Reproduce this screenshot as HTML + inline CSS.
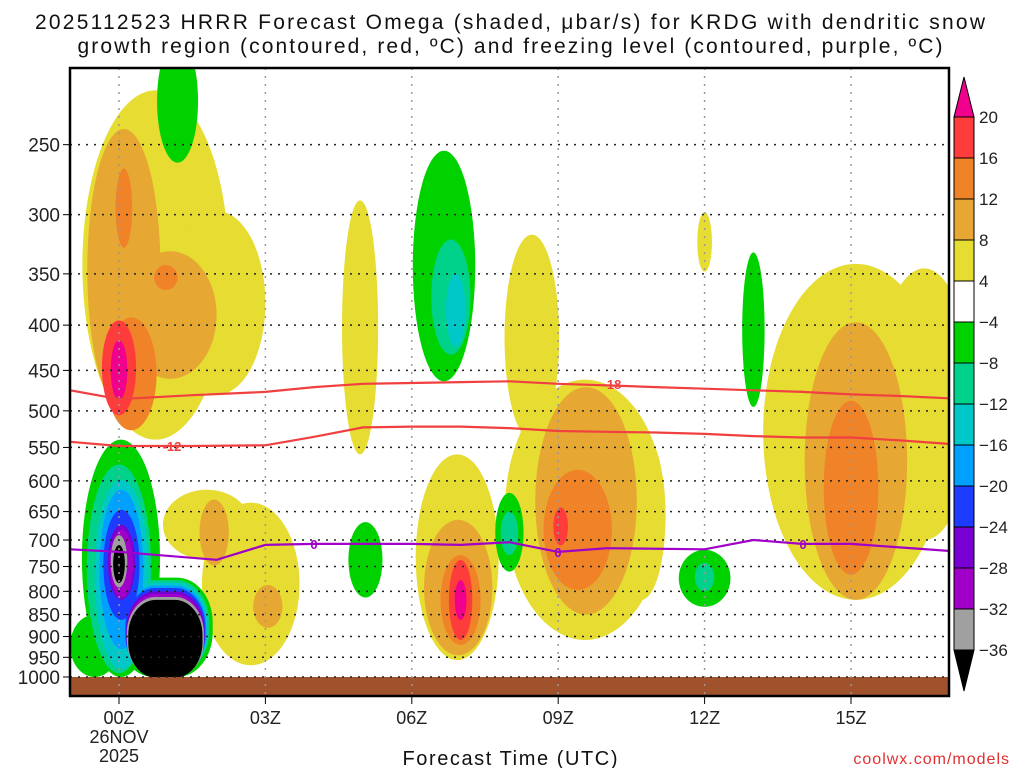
<!DOCTYPE html>
<html><head><meta charset="utf-8"><style>
html,body{margin:0;padding:0;background:#fff;}
svg{display:block;font-family:"Liberation Sans","DejaVu Sans",sans-serif;}
</style></head><body>
<svg id="chart" width="1024" height="768" viewBox="0 0 1024 768" xmlns="http://www.w3.org/2000/svg">
<text x="510" y="29" font-size="21" text-anchor="middle" fill="#111" textLength="950" lengthAdjust="spacing">2025112523 HRRR Forecast Omega (shaded, μbar/s) for KRDG with dendritic snow</text>
<text x="510" y="53" font-size="21" text-anchor="middle" fill="#111" textLength="865" lengthAdjust="spacing">growth region (contoured, red, ºC) and freezing level (contoured, purple, ºC)</text>
<defs><clipPath id="plotclip"><rect x="70" y="68" width="879" height="628"/></clipPath></defs>
<g id="shading" clip-path="url(#plotclip)"></g>
<g id="grid"></g>
<g id="contours" clip-path="url(#plotclip)"></g>
<rect x="70" y="68" width="879" height="628" fill="none" stroke="#000" stroke-width="2.5"/>
<g id="axes"></g>
<g id="colorbar"></g>
<text x="510" y="765" font-size="20" text-anchor="middle" fill="#111" textLength="215" lengthAdjust="spacing">Forecast Time (UTC)</text>
<text x="1010" y="764" font-size="16" text-anchor="end" fill="#e03030" letter-spacing="1">coolwx.com/models</text>
</svg>
<script>
// ---- data ----
const hourTicks = [0,3,6,9,12,15];
const hourTickLabels = ["00Z","03Z","06Z","09Z","12Z","15Z"];
const pressureTicks = [250,300,350,400,450,500,550,600,650,700,750,800,850,900,950,1000];
const cbLevels = [20,16,12,8,4,-4,-8,-12,-16,-20,-24,-28,-32,-36];
const cbColors = ["#ff3c3c","#f08228","#e6a832","#e6dc32","#ffffff","#00d200","#00d28c","#00c8c8","#00a0ff","#1e3cff","#7800d2","#a000c8","#a0a0a0"];
// blobs: level, center hour, half-width hours, top pressure, bottom pressure, shape (0 ellipse, 1 rounded box)
const blobLevel = [1,1,1,1,1,1,1,1,1,1,1,1,
  2,2,2,2,2,2,2,
  3,3,3,3,3,3,
  4,4,4, 5,5,
  -1,-1,-1,-1,-1,-1,-1,-1,-1,
  -2,-2,-2,-2,-2, -3,-3,-3, -4,-4, -5,-5, -6,-6, -7,-7, -8,-8, -9,-9];
const blobHour = [0.75,2.0,2.7,1.8,4.94,6.93,8.46,9.55,10.7,12.0,15.1,16.5,
  0.1,1.05,1.95,3.05,6.95,9.57,15.1,
  0.1,0.96,0.25,7.0,9.4,15.0,
  0.0,7.0,9.05, 0.0,7.0,
  1.2,6.66,5.05,8.0,12.0,13.0,0.04,0.95,-0.5,
  6.8,8.0,12.0,0.0,0.95, 6.9,0.05,0.95, 0.05,0.95, 0.05,0.95, 0.05,0.95, 0.05,0.95, 0.0,0.95, 0.0,0.95];
const blobHalf = [1.5,1.0,1.0,0.9,0.37,0.85,0.56,1.64,0.5,0.15,1.9,1.0,
  0.75,0.95,0.3,0.3,0.7,1.04,1.05,
  0.17,0.24,0.52,0.41,0.7,0.56,
  0.35,0.24,0.15, 0.17,0.12,
  0.42,0.64,0.35,0.29,0.53,0.23,0.8,0.97,0.5,
  0.4,0.18,0.2,0.66,0.9, 0.2,0.55,0.86, 0.45,0.84, 0.37,0.82, 0.28,0.8, 0.24,0.78, 0.17,0.79, 0.12,0.76];
const blobPTop = [217,297,635,614,289,560,316,461,528,298,341,345,
  240,330,630,787,664,470,397,
  266,342,392,728,583,487,
  395,737,643, 416,777,
  190,254,668,619,718,331,539,772,850,
  320,650,743,575,777, 350,598,782, 614,788, 647,793, 673,800, 682,806, 691,812, 709,818];
const blobPBot = [539,480,970,737,560,957,540,908,818,348,818,700,
  500,460,748,880,945,850,818,
  327,365,526,920,797,766,
  506,908,710, 486,862,
  262,463,813,760,833,495,1000,1000,1000,
  432,728,800,990,990, 423,980,990, 930,990, 862,992, 818,994, 814,996, 792,1000, 783,1002];
const blobShape = [0,0,0,0,0,0,0,0,0,0,0,0,
  0,0,0,0,0,0,0,
  0,0,0,0,0,0,
  0,0,0, 0,0,
  0,0,0,0,0,0,0,1,0,
  0,0,0,0,1, 0,0,1, 0,1, 0,1, 0,1, 0,1, 0,1, 0,1];
// contour lines
const lineHours = [-1,0,1.5,3,4,5,6,7,8,9,10,11,12,13,14,15,16,17];
const iso18 = [474,485,480,476,470,466,465,464,463,466,468,470,472,474,476,479,481,484];
const iso12 = [542,548,548,547,535,522,521,521,523,527,528,529,531,534,536,536,540,545];
const iso0Hours = [-1,0,2,3,4,6,7,8,9,10,12,13,14,15,17];
const iso0 = [717,722,737,709,707,707,709,704,722,715,717,700,707,707,720];

(function(){
const X = h => 119 + h*48.8;
const Y = p => 677 - 384*Math.log(1000/p);
const NS = "http://www.w3.org/2000/svg";
function mk(tag, attrs, parent){const e=document.createElementNS(NS,tag);for(const k in attrs)e.setAttribute(k,attrs[k]);parent.appendChild(e);return e;}
const colorFor = {"1":"#e6dc32","2":"#e6a832","3":"#f08228","4":"#ff3c3c","5":"#f0008c",
 "-1":"#00d200","-2":"#00d28c","-3":"#00c8c8","-4":"#00a0ff","-5":"#1e3cff","-6":"#7800d2","-7":"#a000c8","-8":"#a0a0a0","-9":"#000000"};

const shading = document.getElementById('shading');
const drawOrder = blobLevel.map((l,i)=>i).sort((a,b)=>Math.abs(blobLevel[a])-Math.abs(blobLevel[b]) || a-b);
drawOrder.forEach(i=>{
  const y1=Y(blobPTop[i]), y2=Y(blobPBot[i]);
  const cx=X(blobHour[i]), rx=blobHalf[i]*48.8;
  let el;
  if (blobShape[i]===1) {
    el = mk('rect',{x:cx-rx,y:y1,width:2*rx,height:y2-y1,rx:rx*0.75,ry:(y2-y1)*0.45,fill:colorFor[String(blobLevel[i])]},shading);
  } else {
    el = mk('ellipse',{cx:cx,cy:(y1+y2)/2,rx:rx,ry:(y2-y1)/2,fill:colorFor[String(blobLevel[i])]},shading);
  }
  
  
});
const ground = mk('rect',{x:70,y:Y(1000),width:879,height:696-Y(1000),fill:"#a0522d"},shading);



const grid = document.getElementById('grid');
hourTicks.forEach(h=>{
  const l = mk('line',{x1:X(h),x2:X(h),y1:68,y2:696,stroke:"#999","stroke-width":1.5,"stroke-dasharray":"2,6"},grid);
  
  
});
pressureTicks.forEach(p=>{
  const l = mk('line',{x1:70,x2:949,y1:Y(p),y2:Y(p),stroke:"#222","stroke-width":1.5,"stroke-dasharray":"2,6"},grid);
  
  
});

const cont = document.getElementById('contours');
function drawLine(hs, ps, color, name){
  const d = hs.map((h,i)=>(i?'L':'M')+X(h).toFixed(1)+','+Y(ps[i]).toFixed(1)).join(' ');
  const p = mk('path',{d:d,fill:"none",stroke:color,"stroke-width":2.2},cont);
  
  
}
drawLine(lineHours, iso18, "#f04040", "isotherm-minus18");
drawLine(lineHours, iso12, "#f04040", "isotherm-minus12");
drawLine(iso0Hours, iso0, "#a000c8", "freezing-level");
function lbl(x,y,t,c,name){
  const tx = mk('text',{x:x,y:y+5,"font-size":13,"font-weight":"bold","text-anchor":"middle",fill:c},cont);
  tx.textContent=t;
  
  
}
lbl(612,Y(466),"-18","#f04040","label-minus18");
lbl(172,Y(548),"-12","#f04040","label-minus12");
lbl(314,Y(707),"0","#a000c8","label-zero-1");
lbl(558,Y(722),"0","#a000c8","label-zero-2");
lbl(803,Y(707),"0","#a000c8","label-zero-3");

const axes = document.getElementById('axes');
pressureTicks.forEach(p=>{
  const t = mk('line',{x1:63,x2:70,y1:Y(p),y2:Y(p),stroke:"#000","stroke-width":1},axes);
  
  
  const tx = mk('text',{x:60,y:Y(p)+7,"font-size":19,"text-anchor":"end",fill:"#222"},axes);
  tx.textContent=p;
  
  
});
hourTicks.forEach((h,i)=>{
  const t = mk('line',{x1:X(h),x2:X(h),y1:696,y2:704,stroke:"#000","stroke-width":1},axes);
  
  
  const tx = mk('text',{x:X(h),y:724,"font-size":18,"text-anchor":"middle",fill:"#222"},axes);
  tx.textContent=hourTickLabels[i];
  
  
});
["26NOV","2025"].forEach((s,i)=>{
  const tx = mk('text',{x:X(0),y:743+i*19,"font-size":18,"text-anchor":"middle",fill:"#222"},axes);
  tx.textContent=s;
  
  
});

const cb = document.getElementById('colorbar');
const cbY = i => 117 + i*41;
const cbTop = mk('polygon',{points:"954,117 974,117 964,77",fill:"#f0008c",stroke:"#000","stroke-width":1},cb);


cbColors.forEach((c,i)=>{
  const r = mk('rect',{x:954,y:cbY(i),width:20,height:41,fill:c,stroke:"#000","stroke-width":1},cb);
  
  
});
const cbBot = mk('polygon',{points:"954,"+cbY(13)+" 974,"+cbY(13)+" 964,691",fill:"#000",stroke:"#000","stroke-width":1},cb);


cbLevels.forEach((v,i)=>{
  const tx = mk('text',{x:979,y:cbY(i)+6,"font-size":17,fill:"#222"},cb);
  tx.textContent = v<0 ? "\u2212"+Math.abs(v) : String(v);
  
  
});
})();
</script>
</body></html>
